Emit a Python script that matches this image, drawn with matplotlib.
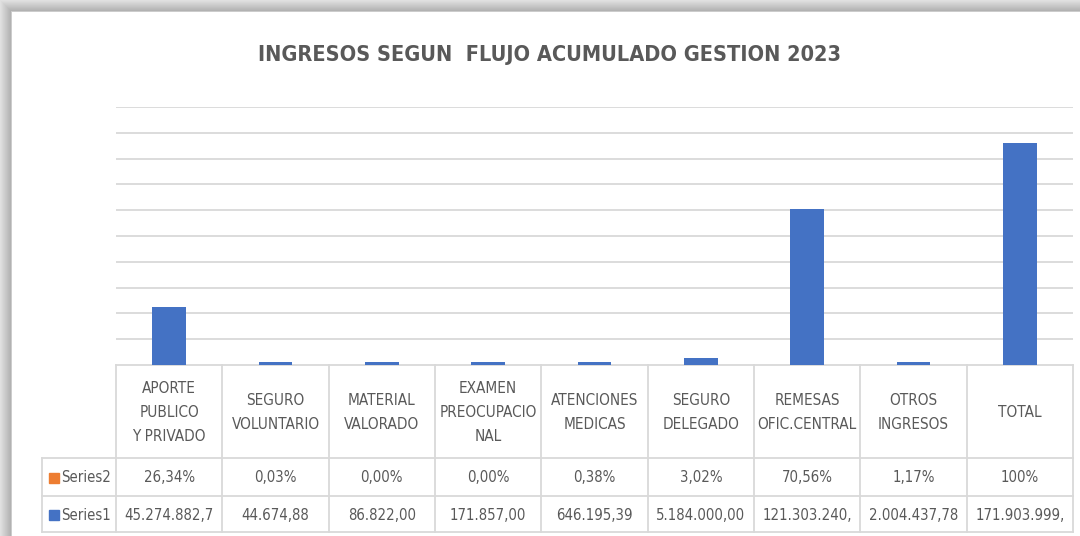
import os
import numpy as np
import matplotlib.pyplot as plt
from matplotlib import font_manager
from matplotlib.font_manager import FontProperties
from matplotlib.patches import Rectangle

# ---- data ----
categories = ["APORTE\nPUBLICO\nY PRIVADO", "SEGURO\nVOLUNTARIO", "MATERIAL\nVALORADO",
              "EXAMEN\nPREOCUPACIO\nNAL", "ATENCIONES\nMEDICAS", "SEGURO\nDELEGADO",
              "REMESAS\nOFIC.CENTRAL", "OTROS\nINGRESOS", "TOTAL"]
series1 = [45274882.7, 44674.88, 86822.00, 171857.00, 646195.39,
           5184000.00, 121303240.0, 2004437.78, 171903999.0]
series1_labels = ["45.274.882,7", "44.674,88", "86.822,00", "171.857,00", "646.195,39",
                  "5.184.000,00", "121.303.240,", "2.004.437,78", "171.903.999,"]
series2 = [26.34, 0.03, 0.00, 0.00, 0.38, 3.02, 70.56, 1.17, 100.0]
series2_labels = ["26,34%", "0,03%", "0,00%", "0,00%", "0,38%", "3,02%", "70,56%", "1,17%", "100%"]
title = "INGRESOS SEGUN  FLUJO ACUMULADO GESTION 2023"

TXT = '#595959'
GRID = '#d9d9d9'
BLUE = '#4472C4'
ORANGE = '#ED7D31'


def pick_font(candidates):
    files = {os.path.basename(f.fname): f.fname for f in font_manager.fontManager.ttflist}
    for c in candidates:
        if c in files:
            return FontProperties(fname=files[c])
    return None


reg = pick_font(["LiberationSansNarrow-Regular.ttf", "DejaVuSansCondensed.ttf"]) \
    or FontProperties(family=['Liberation Sans', 'DejaVu Sans'])
bold = pick_font(["LiberationSansNarrow-Bold.ttf", "DejaVuSansCondensed-Bold.ttf"]) \
    or FontProperties(family=['Liberation Sans', 'DejaVu Sans'], weight='bold')

W, H = 1080, 536
fig = plt.figure(figsize=(W / 100, H / 100), dpi=100)
renderer = fig.canvas.get_renderer()


def fit_size(text, fp, target_px, start=12):
    # scale font size so that the sample text is target_px wide
    t = fig.text(0, 0, text, fontproperties=fp, fontsize=start)
    w = t.get_window_extent(renderer).width
    t.remove()
    return start * target_px / w


size_val = fit_size("45.274.882,7", reg, 89)
size_head = fit_size("PREOCUPACIO", reg, 98)
size_title = fit_size(title, bold, 585, 18)

# shadow frame on the left and top
for i in range(12):
    g = 0.88 - 0.2 * i / 11
    if i == 11:
        g = 0.8
    fig.patches.append(Rectangle((i / W, 0), 1 / W, 1 - i / H, transform=fig.transFigure,
                                 color=(g, g, g), lw=0))
    fig.patches.append(Rectangle((i / W, 1 - (i + 1) / H), 1 - i / W, 1 / H,
                                 transform=fig.transFigure, color=(g, g, g), lw=0))

# data table below the plot
left, right, top, base = 116, 1073, 107, 365
row_top, head_bot, r2_bot, r1_bot = 365, 458, 496, 532
leg_left = 42
unit = (right - left) / len(categories)
tax = fig.add_axes([leg_left / W, 1 - r1_bot / H, (right - leg_left) / W, (r1_bot - row_top) / H])
x0 = -0.5 - (left - leg_left) / unit
tax.set_xlim(x0, len(categories) - 0.5)
tax.set_ylim(r1_bot, row_top)
tax.axis('off')

lkw = dict(color=GRID, lw=1.3, clip_on=False)
tax.plot([-0.5, len(categories) - 0.5], [row_top, row_top], **lkw)
for yy in (head_bot, r2_bot, r1_bot):
    tax.plot([x0, len(categories) - 0.5], [yy, yy], **lkw)
for i in range(len(categories) + 1):
    tax.plot([i - 0.5, i - 0.5], [row_top, r1_bot], **lkw)
tax.plot([x0, x0], [head_bot, r1_bot], **lkw)

for i, cat in enumerate(categories):
    tax.text(i, (row_top + head_bot) / 2 + 1, cat, ha='center', va='center', color=TXT,
             fontproperties=reg, fontsize=size_head, linespacing=1.75)
    tax.text(i, (head_bot + r2_bot) / 2 + 1, series2_labels[i], ha='center', va='center',
             color=TXT, fontproperties=reg, fontsize=size_val)
    tax.text(i, (r2_bot + r1_bot) / 2 + 1, series1_labels[i], ha='center', va='center',
             color=TXT, fontproperties=reg, fontsize=size_val)

for name, col, y0, y1 in (("Series2", ORANGE, head_bot, r2_bot), ("Series1", BLUE, r2_bot, r1_bot)):
    tax.plot([x0 + 12 / unit], [(y0 + y1) / 2 + 1], marker='s', ms=7.2, color=col, clip_on=False)
    tax.text(x0 + 19 / unit, (y0 + y1) / 2 + 1, name, ha='left', va='center', color=TXT,
             fontproperties=reg, fontsize=size_val)

# plot area (pixel layout), drawn on top of the table lines
ax = fig.add_axes([left / W, 1 - base / H, (right - left) / W, (base - top) / H])
ax.set_zorder(3)
ax.patch.set_alpha(0)
x = np.arange(len(categories))
# tiny values get a thin visible sliver like the original
vis = [max(v, 2.2e6) for v in series1]
ax.bar(x, vis, width=0.315, color=BLUE, lw=0, zorder=3)
ax.set_xlim(-0.5, len(categories) - 0.5)
ax.set_ylim(0, 200e6)
ax.set_yticks(np.arange(20e6, 200e6 + 1, 20e6))
ax.grid(axis='y', color=GRID, lw=1.3)
ax.set_axisbelow(True)
ax.tick_params(left=False, bottom=False, labelleft=False, labelbottom=False)
for s in ax.spines.values():
    s.set_visible(False)

fig.text(550 / W, 1 - 55 / H, title, ha='center', va='center', color=TXT,
         fontproperties=bold, fontsize=size_title)

fig.savefig('out.png', dpi=100)
